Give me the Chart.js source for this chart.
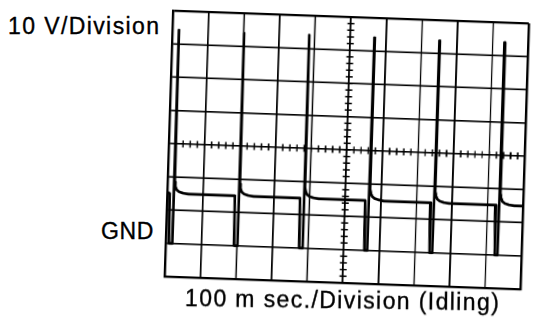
<!DOCTYPE html>
<html>
<head>
<meta charset="utf-8">
<script src="https://cdn.jsdelivr.net/npm/chart.js@4/dist/chart.umd.min.js"></script>
<style>
  html, body { margin: 0; padding: 0; background: #fff; width: 533px; height: 324px; overflow: hidden; position: relative; }
  /* the graticule is photographed slightly tilted */
  #scope { position: absolute; left: 0; top: 0; width: 362px; height: 272px;
           transform-origin: 0 0; transform: matrix(1, 0.0358, -0.0316, 0.99925, 170.1, 7.5); }
  .lbl { position: absolute; font-family: "Liberation Sans", Arial, sans-serif; font-size: 23px;
         line-height: 23px; color: #000; white-space: nowrap; letter-spacing: 1.4px;
         -webkit-text-stroke: 0.35px #000; }
</style>
</head>
<body>
<div id="scope"><canvas id="c" width="362" height="272"></canvas></div>
<div class="lbl" style="left:8px; top:15px;">10 V/Division</div>
<div class="lbl" style="left:101px; top:220px; letter-spacing:0.6px;">GND</div>
<div class="lbl" style="left:185px; top:287px; transform-origin:0 50%; transform:rotate(0.8deg);">100 m sec./Division (Idling)</div>
<script>
// Time base and vertical range of the graticule (10 divisions x 8 divisions)
const timeRangeMs = [0, 1000];      // 100 ms per division
const voltRange = [-10, 70];        // 10 V per division, GND one division above the bottom
const msPerDivision = 100;
const voltsPerDivision = 10;
const centreMs = 500;
const centreVolts = 30;
const minorStepMs = 20;
const minorStepVolts = 2;

// Ignition primary waveform at idle: sample times (ms) and voltages (V)
const traceTimeMs = [
  0, 7, 9, 17,
  18.5, 20, 22, 26, 33, 45, 60, 190, 192, 200,
  201.5, 203, 205, 209, 216, 228, 243, 373, 375, 383,
  384.5, 386, 388, 392, 399, 411, 426, 556, 558, 566,
  567.5, 569, 571, 575, 582, 594, 609, 739, 741, 749,
  750.5, 752, 754, 758, 765, 777, 792, 922, 924, 932,
  933.5, 935, 937, 941, 948, 960, 975, 1000
];
const traceVolts = [
  15.4, 15.0, 0, 0,
  64.2, 18.5, 17.2, 16.2, 15.6, 15.2, 15.0, 15.0, 0, 0,
  64.0, 18.6, 17.3, 16.2, 15.6, 15.2, 15.0, 15.0, 0, 0,
  64.1, 18.5, 17.2, 16.2, 15.6, 15.2, 15.0, 15.0, 0, 0,
  64.0, 18.6, 17.3, 16.3, 15.7, 15.3, 15.0, 15.0, 0, 0,
  63.8, 18.5, 17.2, 16.2, 15.6, 15.2, 15.0, 15.0, 0, 0,
  64.0, 18.6, 17.3, 16.2, 15.6, 15.2, 15.0, 15.0
];

const tracePoints = traceTimeMs.map((t, i) => ({ x: t, y: traceVolts[i] }));

// Small tick marks along the two centre lines of the graticule
const centreTicks = {
  id: 'centreTicks',
  beforeDatasetsDraw(chart) {
    const { ctx, scales: { x, y } } = chart;
    const cx = x.getPixelForValue(centreMs);
    const cy = y.getPixelForValue(centreVolts);
    ctx.save();
    ctx.strokeStyle = '#000';
    ctx.lineWidth = 1.5;
    ctx.beginPath();
    for (let t = timeRangeMs[0]; t <= timeRangeMs[1]; t += minorStepMs) {
      const px = x.getPixelForValue(t);
      ctx.moveTo(px, cy - 3.5); ctx.lineTo(px, cy + 3.5);
    }
    for (let v = voltRange[0]; v <= voltRange[1]; v += minorStepVolts) {
      const py = y.getPixelForValue(v);
      ctx.moveTo(cx - 3.5, py); ctx.lineTo(cx + 3.5, py);
    }
    ctx.stroke();
    ctx.restore();
  }
};

const edgeWidth = (lo, hi) => c => (c.tick && (c.tick.value === lo || c.tick.value === hi)) ? 2.2 : 1.6;

new Chart(document.getElementById('c'), {
  type: 'scatter',
  data: {
    datasets: [{
      data: tracePoints,
      showLine: true,
      borderColor: '#000',
      borderWidth: 2.7,
      borderJoinStyle: 'round',
      borderCapStyle: 'round',
      pointRadius: 0,
      tension: 0,
      fill: false
    }]
  },
  options: {
    responsive: false,
    animation: false,
    devicePixelRatio: 2,
    layout: { padding: 3 },
    plugins: { legend: { display: false }, tooltip: { enabled: false } },
    scales: {
      x: {
        type: 'linear', min: timeRangeMs[0], max: timeRangeMs[1],
        ticks: { display: false, stepSize: msPerDivision },
        grid: { color: '#000', lineWidth: edgeWidth(timeRangeMs[0], timeRangeMs[1]), drawTicks: false },
        border: { color: '#000', width: 2.2 }
      },
      y: {
        type: 'linear', min: voltRange[0], max: voltRange[1],
        ticks: { display: false, stepSize: voltsPerDivision },
        grid: { color: '#000', lineWidth: edgeWidth(voltRange[0], voltRange[1]), drawTicks: false },
        border: { color: '#000', width: 2.2 }
      }
    }
  },
  plugins: [centreTicks]
});
</script>
</body>
</html>
